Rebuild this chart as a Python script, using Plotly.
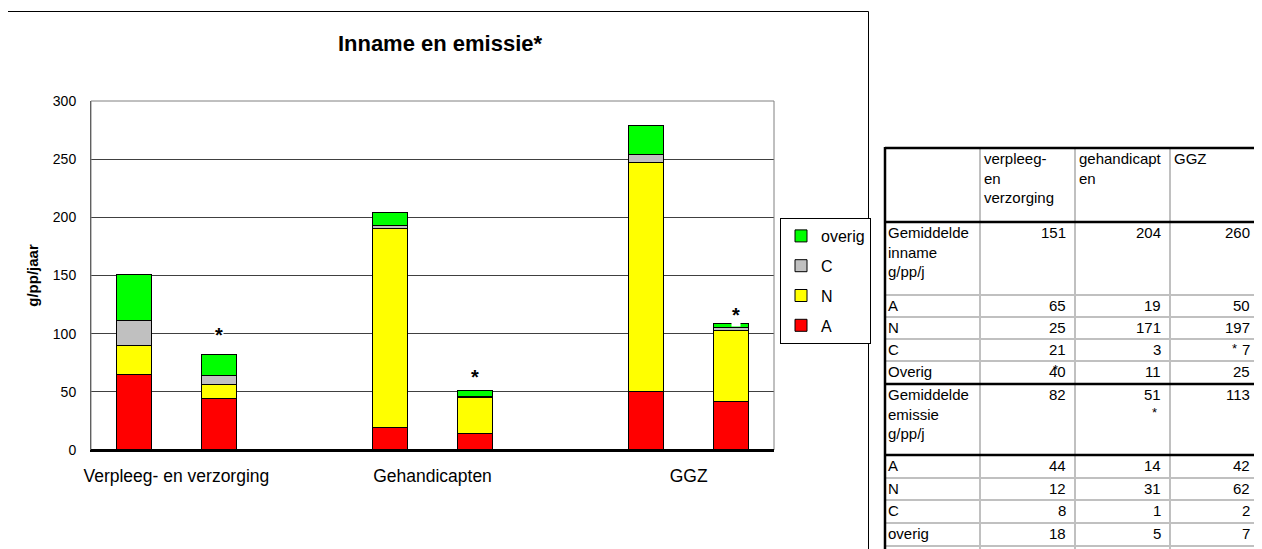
import plotly.graph_objects as go

# chart data (g/pp/jaar), per bar: inname / emissie for each sector
categories = ["Verpleeg- en verzorging", "Gehandicapten", "GGZ"]
A = [65, 44, 19, 14, 50, 42]
N = [25, 12, 171, 31, 197, 61]
C = [21, 8, 3, 1, 7, 2]
overig = [40, 18, 11, 5, 25, 4]

# table next to the chart
tbl_cols = ["verpleeg-<br>en<br>verzorging", "gehandicapt<br>en", "GGZ"]
tbl_rows = ["Gemiddelde<br>inname<br>g/pp/j", "A", "N", "C", "Overig",
            "Gemiddelde<br>emissie<br>g/pp/j", "A", "N", "C", "overig"]
tbl_vals = [
    ["151", "204", "260"],
    ["65", "19", "50"],
    ["25", "171", "197"],
    ["21", "3", "7"],
    ["40", "11", "25"],
    ["82", "51", "113"],
    ["44", "14", "42"],
    ["12", "31", "62"],
    ["8", "1", "2"],
    ["18", "5", "7"],
]

FONT = "Liberation Sans, Arial, sans-serif"
OFF = 8                      # page body margin, figure starts 8px in
W, H = 1262 - OFF, 549 - OFF
L, R, T, B = 91, 774, 101, 450  # plot area in screen pixels


def px(x):
    return (x - L) / (R - L)


def py(y):
    return (B - y) / (B - T)


# two bars per group, one empty slot between groups
xpos = [0, 1, 3, 4, 6, 7]
group_mid = [0.5, 3.5, 6.5]

fig = go.Figure()
traces = [("A", A, "#ff0000"), ("N", N, "#ffff00"), ("C", C, "#c0c0c0"), ("overig", overig, "#00ff00")]
for k, (name, vals, col) in enumerate(traces):
    fig.add_trace(go.Bar(x=xpos, y=vals, name=name, legendgroup=name, legendrank=10 - k,
                         width=0.41, marker=dict(color=col, line=dict(color="black", width=1))))

fig.update_layout(
    barmode="stack",
    width=W, height=H,
    margin=dict(l=L - OFF, r=W - (R - OFF), t=T - OFF, b=H - (B - OFF)),
    paper_bgcolor="white", plot_bgcolor="white",
    font=dict(family=FONT, color="black"),
    title=dict(text="<b>Inname en emissie*</b>", xref="paper", x=px(440), xanchor="center",
               y=1 - (43 - OFF) / H, yanchor="middle", font=dict(size=22)),
    legend=dict(x=px(780), xanchor="left", y=py(218), yanchor="top",
                traceorder="grouped", tracegroupgap=6,
                bordercolor="black", borderwidth=1, bgcolor="white",
                font=dict(size=16)),
    showlegend=True,
)
fig.update_xaxes(range=[-0.5, 7.5], tickvals=group_mid, ticktext=categories,
                 tickfont=dict(size=17.5), showgrid=False, zeroline=False,
                 showline=True, linecolor="black", linewidth=2,
                 ticks="", ticklabelstandoff=9)
fig.update_yaxes(range=[0, 300], dtick=50, showgrid=True, gridcolor="#404040", gridwidth=1,
                 zeroline=False, showline=True, linecolor="#404040", linewidth=1,
                 tickfont=dict(size=14), ticks="", ticklabelstandoff=11,
                 title=dict(text="<b>g/pp/jaar</b>", font=dict(size=15), standoff=10))

# plot area frame (grey top / right)
fig.add_shape(type="rect", xref="paper", yref="paper", x0=0, x1=1, y0=0, y1=1,
              line=dict(color="#808080", width=1), layer="above")
fig.add_shape(type="line", xref="paper", yref="paper", x0=0, x1=1, y0=0, y1=0,
              line=dict(color="black", width=2), layer="above")
# chart outer border
fig.add_shape(type="rect", xref="paper", yref="paper",
              x0=px(7.5), x1=px(868.5), y0=py(600), y1=py(11.5),
              line=dict(color="black", width=1))

# asterisks above the emission bars
for xa, ya in [(1, 99), (4, 63), (7.05, 116)]:
    fig.add_annotation(x=xa, y=ya, xref="x", yref="y", text="<b>*</b>", showarrow=False,
                       font=dict(size=20), bgcolor="white", borderpad=0)

# ---- table ----
col_x = [885, 980, 1075, 1170, 1259]
row_y = [148, 222, 295, 317, 339, 361, 384, 455, 478, 500, 523, 546]
thick = {0, 1, 6, 7}

for i, y in enumerate(row_y[1:], start=1):
    if i not in thick:
        fig.add_shape(type="line", xref="paper", yref="paper", x0=px(col_x[0]), x1=px(1270),
                      y0=py(y), y1=py(y), line=dict(color="#c0c0c0", width=2))
for xc in col_x[1:4]:
    fig.add_shape(type="line", xref="paper", yref="paper", x0=px(xc), x1=px(xc),
                  y0=py(row_y[0]), y1=py(560), line=dict(color="#c0c0c0", width=2))
for i in sorted(thick):
    fig.add_shape(type="line", xref="paper", yref="paper", x0=px(col_x[0]), x1=px(1270),
                  y0=py(row_y[i]), y1=py(row_y[i]), line=dict(color="black", width=2.5))
fig.add_shape(type="line", xref="paper", yref="paper", x0=px(col_x[0]), x1=px(col_x[0]),
              y0=py(row_y[0] - 1), y1=py(560), line=dict(color="black", width=2.5))


def cell_text(text, x, y, anchor, size=15):
    fig.add_annotation(x=px(x), y=py(y), xref="paper", yref="paper", text=text,
                       showarrow=False, xanchor=anchor, yanchor="top", align="left",
                       font=dict(size=size), borderpad=0)


for j, head in enumerate(tbl_cols):
    cell_text(head, col_x[j + 1] + 3, row_y[0] + 1, "left")
for i, (lab, vals) in enumerate(zip(tbl_rows, tbl_vals)):
    top = row_y[i + 1] + 1
    cell_text(lab, col_x[0] + 2, top, "left")
    for j, v in enumerate(vals):
        cell_text(v, col_x[j + 2] - 8, top, "right")

# stray asterisks in the table
for xs, ys in [(1055, 361), (1234, 340), (1154, 404)]:
    cell_text("*", xs, ys, "center", 13)

fig.write_html("out.html")
